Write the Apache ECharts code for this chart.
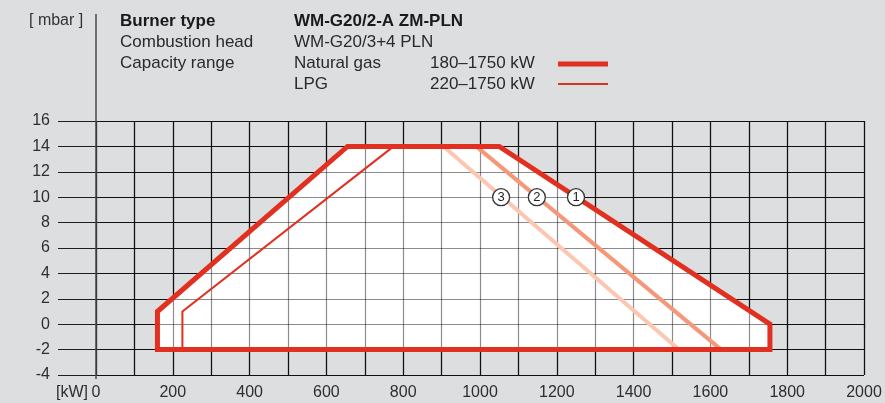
<!DOCTYPE html>
<html>
<head>
<meta charset="utf-8">
<script src="https://cdn.jsdelivr.net/npm/echarts@6/dist/echarts.min.js"></script>
<style>
html,body{margin:0;padding:0;background:#dddee0;}
#chart{width:885px;height:403px;}
</style>
</head>
<body>
<div id="chart"></div>
<script>
// ---- data ----
const xTicksMin = 0, xTicksMax = 2000, xInterval = 100;
const yTicksMin = -4, yTicksMax = 16, yInterval = 2;
// Natural gas working field (outline, closed)
const ngX = [160, 160, 655, 1050, 1755, 1755];
const ngY = [-2, 1, 14, 14, 0, -2];
// LPG field boundary (left side)
const lpgX = [225, 225, 775];
const lpgY = [-2, 1, 14];
// combustion head setting lines
const head2X = [990, 1628];
const head2Y = [14, -2];
const head3X = [905, 1518];
const head3Y = [14, -2];
// marker circles
const markX = [1250, 1148, 1055];
const markY = [10, 10, 10];
const markLabels = ['1', '2', '3'];

const FONT = '"Liberation Sans", Arial, sans-serif';
const RED = '#e1301f';

function pairs(xs, ys) { return xs.map((x, i) => [x, ys[i]]); }

const chart = echarts.init(document.getElementById('chart'), null, {renderer: 'canvas'});

function polyItem(fillMode) {
  return function (params, api) {
    const pts = ngX.map((x, i) => api.coord([x, ngY[i]]));
    return {
      type: 'polygon',
      shape: {points: pts},
      style: fillMode
        ? {fill: '#ffffff', stroke: null}
        : {fill: null, stroke: RED, lineWidth: 5, lineJoin: 'miter'}
    };
  };
}

const option = {
  backgroundColor: '#dddee0',
  animation: false,
  textStyle: {fontFamily: FONT},
  grid: {left: 96, right: 21, top: 121, bottom: 28, containLabel: false},
  xAxis: [{
    type: 'value', min: xTicksMin, max: xTicksMax, interval: xInterval,
    axisLine: {show: false},
    axisTick: {show: true, length: 4, lineStyle: {color: '#1e1e1e', width: 1.2}},
    splitLine: {show: true, lineStyle: {color: '#1e1e1e', width: 1.2}},
    axisLabel: {
      margin: 10, fontSize: 16, color: '#2e2e2e', fontFamily: FONT,
      formatter: v => (v % 200 === 0 ? String(v) : '')
    }
  }, {
    type: 'value', min: xTicksMin, max: xTicksMax, interval: xInterval, z: 3,
    position: 'bottom',
    axisLine: {show: false}, axisTick: {show: false}, axisLabel: {show: false},
    splitLine: {show: true, lineStyle: {color: 'rgba(0,0,0,0.45)', width: 1.2}}
  }],
  yAxis: [{
    type: 'value', min: yTicksMin, max: yTicksMax, interval: yInterval,
    axisLine: {show: false},
    axisTick: {show: true, length: 38, lineStyle: {color: '#1e1e1e', width: 1.2}},
    splitLine: {show: true, lineStyle: {color: '#1e1e1e', width: 1.2}},
    axisLabel: {margin: 46, fontSize: 16, color: '#2e2e2e', fontFamily: FONT}
  }, {
    type: 'value', min: yTicksMin, max: yTicksMax, interval: yInterval, z: 3,
    position: 'left',
    axisLine: {show: false}, axisTick: {show: false}, axisLabel: {show: false},
    splitLine: {show: true, lineStyle: {color: 'rgba(0,0,0,0.45)', width: 1.2}}
  }],
  series: [
    {
      type: 'custom', name: 'fill', z: 1, silent: true,
      xAxisIndex: 0, yAxisIndex: 0,
      data: [[ngX[0], ngY[0]]],
      renderItem: polyItem(true)
    },
    {
      type: 'line', name: 'head3', z: 4, xAxisIndex: 0, yAxisIndex: 0,
      data: pairs(head3X, head3Y), symbol: 'none',
      lineStyle: {color: '#fcc6b0', width: 4}
    },
    {
      type: 'line', name: 'head2', z: 4, xAxisIndex: 0, yAxisIndex: 0,
      data: pairs(head2X, head2Y), symbol: 'none',
      lineStyle: {color: '#f5987a', width: 4}
    },
    {
      type: 'line', name: 'LPG', z: 5, xAxisIndex: 0, yAxisIndex: 0,
      data: pairs(lpgX, lpgY), symbol: 'none',
      lineStyle: {color: RED, width: 2, join: 'miter'}
    },
    {
      type: 'custom', name: 'Natural gas', z: 6, silent: true,
      xAxisIndex: 0, yAxisIndex: 0,
      data: [[ngX[0], ngY[0]]],
      renderItem: polyItem(false)
    },
    {
      type: 'scatter', name: 'marks', z: 8, xAxisIndex: 0, yAxisIndex: 0,
      data: markX.map((x, i) => ({value: [x, markY[i]], label: {formatter: markLabels[i]}})),
      symbol: 'circle', symbolSize: 17,
      itemStyle: {color: '#ffffff', borderColor: '#333333', borderWidth: 1.3, opacity: 1},
      label: {show: true, position: 'inside', color: '#222', fontSize: 13, fontFamily: FONT}
    }
  ],
  graphic: [
    {type: 'line', z: 50, shape: {x1: 96, y1: 14, x2: 96, y2: 379},
     style: {stroke: '#4a4a4a', lineWidth: 1.5}},
    {type: 'text', x: 29, y: 21, style: {text: '[ mbar ]', font: '16px ' + FONT, fill: '#333', verticalAlign: 'middle'}},
    {type: 'text', x: 88, y: 393, style: {text: '[kW]', font: '16px ' + FONT, fill: '#2e2e2e', align: 'right', verticalAlign: 'middle'}},
    {type: 'text', x: 120, y: 21, style: {text: 'Burner type', font: 'bold 17px ' + FONT, fill: '#1a1a1a', verticalAlign: 'middle'}},
    {type: 'text', x: 294, y: 21, style: {text: 'WM-G20/2-A ZM-PLN', font: 'bold 17px ' + FONT, fill: '#1a1a1a', verticalAlign: 'middle'}},
    {type: 'text', x: 120, y: 42, style: {text: 'Combustion head', font: '17px ' + FONT, fill: '#2a2a2a', verticalAlign: 'middle'}},
    {type: 'text', x: 294, y: 42, style: {text: 'WM-G20/3+4 PLN', font: '17px ' + FONT, fill: '#2a2a2a', verticalAlign: 'middle'}},
    {type: 'text', x: 120, y: 63, style: {text: 'Capacity range', font: '17px ' + FONT, fill: '#2a2a2a', verticalAlign: 'middle'}},
    {type: 'text', x: 294, y: 63, style: {text: 'Natural gas', font: '17px ' + FONT, fill: '#2a2a2a', verticalAlign: 'middle'}},
    {type: 'text', x: 430, y: 63, style: {text: '180–1750 kW', font: '17px ' + FONT, fill: '#2a2a2a', verticalAlign: 'middle'}},
    {type: 'text', x: 294, y: 84, style: {text: 'LPG', font: '17px ' + FONT, fill: '#2a2a2a', verticalAlign: 'middle'}},
    {type: 'text', x: 430, y: 84, style: {text: '220–1750 kW', font: '17px ' + FONT, fill: '#2a2a2a', verticalAlign: 'middle'}},
    {type: 'line', shape: {x1: 558, y1: 64, x2: 608, y2: 64}, style: {stroke: RED, lineWidth: 5}},
    {type: 'line', shape: {x1: 558, y1: 84, x2: 608, y2: 84}, style: {stroke: RED, lineWidth: 2}}
  ]
};
chart.setOption(option);
</script>
</body>
</html>
